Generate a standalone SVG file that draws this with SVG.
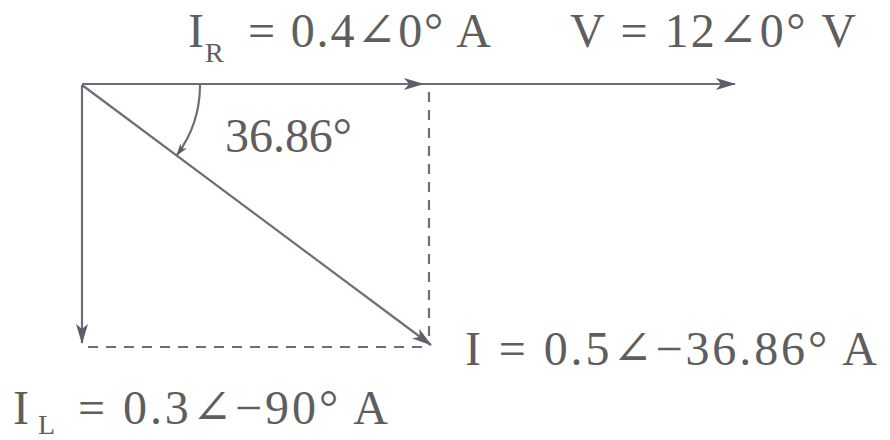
<svg xmlns="http://www.w3.org/2000/svg" width="890" height="440" viewBox="0 0 890 440">
<defs>
<style>
.ln{stroke:#6e6e7a;stroke-width:2.2;fill:none}
.ds{stroke:#6e6e7a;stroke-width:2.2;fill:none;stroke-dasharray:10 8}
.tx{font-family:"Liberation Serif","Times New Roman","DejaVu Serif",serif;font-size:48px;fill:#5e5e5e}
.sub{font-size:28px}
</style>
<marker id="ah" viewBox="0 0 20 12" markerWidth="20" markerHeight="12" refX="19" refY="6" orient="auto" markerUnits="userSpaceOnUse">
<path d="M0,0 L20,6 L0,12 L5,6 z" fill="#5e5e6a"/>
</marker>
<marker id="ahs" viewBox="0 0 12 8" markerWidth="12" markerHeight="8" refX="11" refY="4" orient="auto" markerUnits="userSpaceOnUse">
<path d="M0,0 L12,4 L0,8 L3,4 z" fill="#5e5e6a"/>
</marker>
</defs>
<rect width="890" height="440" fill="#ffffff"/>
<g id="connectors">
<line class="ln" x1="82" y1="84" x2="735" y2="84" marker-end="url(#ah)"/>
<line class="ln" x1="82" y1="84" x2="423" y2="84" marker-end="url(#ah)"/>
<line class="ln" x1="82" y1="85" x2="82" y2="343" marker-end="url(#ah)"/>
<line class="ln" x1="82" y1="85" x2="431" y2="345" marker-end="url(#ah)"/>
<line class="ds" x1="429" y1="92" x2="429" y2="345"/>
<line class="ds" x1="88" y1="347" x2="425" y2="347"/>
<path class="ln" d="M200,85 A118,118 0 0 1 177,155" stroke-width="1.6" marker-end="url(#ahs)"/>
</g>
<g id="label-IR">
<text class="tx" x="188" y="47">I</text>
<text class="tx sub" x="205" y="62">R</text>
<text class="tx" x="248" y="47" textLength="243" lengthAdjust="spacing">= 0.4∠0° A</text>
</g>
<g id="label-V">
<text class="tx" x="570" y="47" textLength="286" lengthAdjust="spacing">V = 12∠0° V</text>
</g>
<g id="label-angle">
<text class="tx" x="225" y="152" textLength="127" lengthAdjust="spacing">36.86°</text>
</g>
<g id="label-I">
<text class="tx" x="465" y="365" textLength="412" lengthAdjust="spacing">I = 0.5∠−36.86° A</text>
</g>
<g id="label-IL">
<text class="tx" x="13" y="424">I</text>
<text class="tx sub" x="38" y="434">L</text>
<text class="tx" x="78" y="424" textLength="310" lengthAdjust="spacing">= 0.3∠−90° A</text>
</g>
</svg>
